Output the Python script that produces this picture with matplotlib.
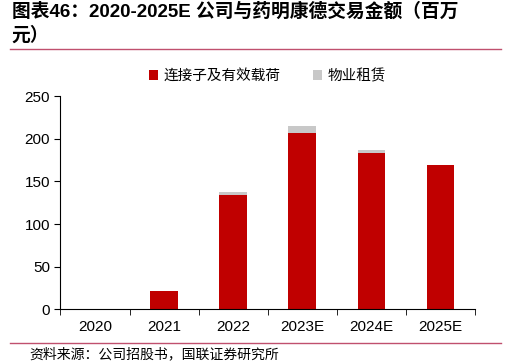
import numpy as np
import matplotlib.pyplot as plt
from matplotlib.lines import Line2D

plt.rcParams['font.family'] = ['Noto Sans CJK SC', 'DejaVu Sans']

years = ['2020', '2021', '2022', '2023E', '2024E', '2025E']
payload = [0, 22, 134, 207, 183, 169]   # 连接子及有效载荷
lease = [0, 0, 4, 8, 4, 0.5]            # 物业租赁

red = '#C00000'
grey = '#C8C8C8'

fig = plt.figure(figsize=(5.25, 3.63), dpi=100)
ax = fig.add_axes([0.115, 0.148, 0.79, 0.587])

x = np.arange(len(years))
ax.bar(x, payload, width=0.4, color=red, label='连接子及有效载荷')
ax.bar(x, lease, width=0.4, bottom=payload, color=grey, label='物业租赁')

ax.set_ylim(0, 250)
ax.set_yticks(np.arange(0, 251, 50))
ax.set_xlim(-0.5, len(years) - 0.5)
ax.set_xticks(x)
ax.set_xticklabels(years, fontfamily=['Liberation Sans', 'DejaVu Sans'])
for lab in ax.get_yticklabels():
    lab.set_fontfamily(['Liberation Sans', 'DejaVu Sans'])
ax.tick_params(axis='both', labelsize=11, colors='black')
ax.set_xticks(np.arange(-0.5, len(years), 1), minor=True)
ax.tick_params(axis='x', which='major', length=0, pad=8)
ax.tick_params(axis='x', which='minor', length=4, direction='out')
ax.tick_params(axis='y', length=4, direction='out')
for s in ['top', 'right']:
    ax.spines[s].set_visible(False)

ax.legend(loc='lower center', bbox_to_anchor=(0.5, 1.0), ncol=2, frameon=False,
          fontsize=10.5, handlelength=0.6, handleheight=0.6, columnspacing=2.2,
          handletextpad=0.4)

fig.text(0.022, 0.935, '图表46：2020-2025E 公司与药明康德交易金额（百万\n元）',
         fontsize=13.5, fontweight='bold', va='center', linespacing=1.35,
         family=['Liberation Sans', 'Noto Sans CJK SC'])
fig.add_artist(Line2D([0.019, 0.955], [0.865, 0.865], color='#C0506E', lw=1))
fig.add_artist(Line2D([0.019, 0.955], [0.055, 0.055], color='#C0506E', lw=1))
fig.text(0.055, 0.025, '资料来源：公司招股书，国联证券研究所', fontsize=10, va='center')

fig.savefig('out.png', dpi=100)
